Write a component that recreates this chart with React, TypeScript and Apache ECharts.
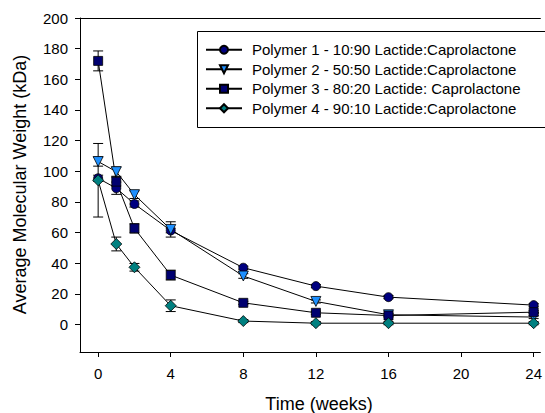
import React, { useEffect, useRef } from "react";
import * as echarts from "echarts";

const weeks = [0, 1, 2, 4, 8, 12, 16, 24];
const seriesNames = [
  "Polymer 1 - 10:90 Lactide:Caprolactone",
  "Polymer 2 - 50:50 Lactide:Caprolactone",
  "Polymer 3 - 80:20 Lactide: Caprolactone",
  "Polymer 4 - 90:10 Lactide:Caprolactone",
];
const polymer1 = [95.4, 88.9, 78.6, 61.3, 37, 25, 17.8, 12.6];
const polymer2 = [106.3, 99.7, 84.7, 62.0, 31.6, 15, 6.3, 4.8];
const polymer3 = [172, 93.2, 62.7, 32.2, 14.1, 7.6, 5.8, 8];
const polymer4 = [94.1, 52.5, 37.3, 12.2, 2.2, 0.8, 0.8, 0.8];
const err1 = [2, 4, 2, 1.5, 1, 1, 1, 1];
const err2 = [3, 3, 2.5, 5, 1.5, 1, 1, 1];
const err3 = [6.5, 3, 3, 3.2, 1, 1, 1, 1];
const err4 = [24, 4.5, 2.5, 3.8, 1, 1, 1, 1];
const xTicks = [0, 4, 8, 12, 16, 20, 24];
const yTicks = [0, 20, 40, 60, 80, 100, 120, 140, 160, 180, 200];

const symbols = ["circle", "triangle", "rect", "diamond"];
const symbolRot = [0, 180, 0, 0];
const symbolSizes = [9, 10, 9, 11];
const colors = ["#000080", "#1E90FF", "#000070", "#008080"];

const FONT = "'Liberation Sans', Arial, sans-serif";

export default function App() {
  const ref = useRef<HTMLDivElement>(null);
  useEffect(() => {
    if (!ref.current) return;
    const chart = echarts.init(ref.current, undefined, { renderer: "svg" });
    const values = [polymer1, polymer2, polymer3, polymer4];
    const errs = [err1, err2, err3, err4];

    const errorSeries = values.map((vals, si) => ({
      type: "custom",
      name: "err" + si,
      z: 1,
      silent: true,
      data: weeks.map((w, i) => [w, vals[i], errs[si][i]]),
      encode: { x: 0, y: 1 },
      renderItem: (params: any, api: any) => {
        const x = api.value(0);
        const y = api.value(1);
        const e = api.value(2);
        const top = api.coord([x, y + e]);
        const bot = api.coord([x, y - e]);
        const hw = 5;
        const st = { stroke: "#000", lineWidth: 1 };
        return {
          type: "group",
          children: [
            { type: "line", shape: { x1: top[0], y1: top[1], x2: bot[0], y2: bot[1] }, style: st },
            { type: "line", shape: { x1: top[0] - hw, y1: top[1], x2: top[0] + hw, y2: top[1] }, style: st },
            { type: "line", shape: { x1: bot[0] - hw, y1: bot[1], x2: bot[0] + hw, y2: bot[1] }, style: st },
          ],
        };
      },
    }));

    const lineSeries = values.map((vals, si) => ({
      type: "line",
      name: seriesNames[si],
      z: 3,
      data: weeks.map((w, i) => [w, vals[i]]),
      symbol: symbols[si],
      symbolRotate: symbolRot[si],
      symbolSize: symbolSizes[si],
      showAllSymbol: true,
      lineStyle: { color: "#000", width: 1 },
      itemStyle: { color: colors[si], borderColor: "#000", borderWidth: 0.8 },
    }));

    chart.setOption({
      animation: false,
      textStyle: { fontFamily: FONT },
      grid: { left: 80, top: 18, right: 0, bottom: 61, containLabel: false },
      legend: {
        orient: "vertical",
        left: 205,
        top: 40,
        padding: 0,
        itemGap: 0,
        itemWidth: 36,
        itemHeight: 10,
        data: seriesNames,
        textStyle: { fontSize: 15, lineHeight: 19.5, color: "#000", fontFamily: FONT, padding: [0, 0, 0, 5] },
      },
      xAxis: [
        {
          type: "value",
          min: -1,
          max: 24.37,
          axisLine: { onZero: false, lineStyle: { color: "#000", width: 1 } },
          axisTick: { customValues: xTicks, length: 5, lineStyle: { color: "#000" } },
          axisLabel: { customValues: xTicks, margin: 14, fontSize: 15, color: "#000", fontFamily: FONT },
          splitLine: { show: false },
        },
        {
          type: "value",
          position: "top",
          min: -1,
          max: 24.37,
          axisLine: { show: true, onZero: false, lineStyle: { color: "#000", width: 1 } },
          axisTick: { show: false },
          axisLabel: { show: false },
          splitLine: { show: false },
        },
      ],
      yAxis: {
        type: "value",
        min: -18,
        max: 200,
        axisLine: { show: true, onZero: false, lineStyle: { color: "#000", width: 1 } },
        axisTick: { show: true, customValues: yTicks, length: 5, lineStyle: { color: "#000" } },
        axisLabel: { customValues: yTicks, margin: 12, fontSize: 15, color: "#000", fontFamily: FONT },
        splitLine: { show: false },
      },
      graphic: [
        {
          type: "rect",
          z: 0,
          shape: { x: 197.5, y: 31.5, width: 380, height: 96 },
          style: { fill: "#fff", stroke: "#000", lineWidth: 1 },
        },
        {
          type: "text",
          x: 19.5,
          y: 184.5,
          rotation: Math.PI / 2,
          style: {
            text: "Average Molecular Weight (kDa)",
            fontSize: 18,
            fontFamily: FONT,
            fill: "#000",
            align: "center",
            verticalAlign: "middle",
          },
        },
        {
          type: "text",
          x: 319,
          y: 404,
          style: {
            text: "Time (weeks)",
            fontSize: 18,
            fontFamily: FONT,
            fill: "#000",
            align: "center",
            verticalAlign: "middle",
          },
        },
      ],
      series: [...errorSeries, ...lineSeries],
    });
    return () => chart.dispose();
  }, []);
  return <div ref={ref} style={{ width: 545, height: 413, position: "absolute", left: 0, top: 0 }} />;
}
